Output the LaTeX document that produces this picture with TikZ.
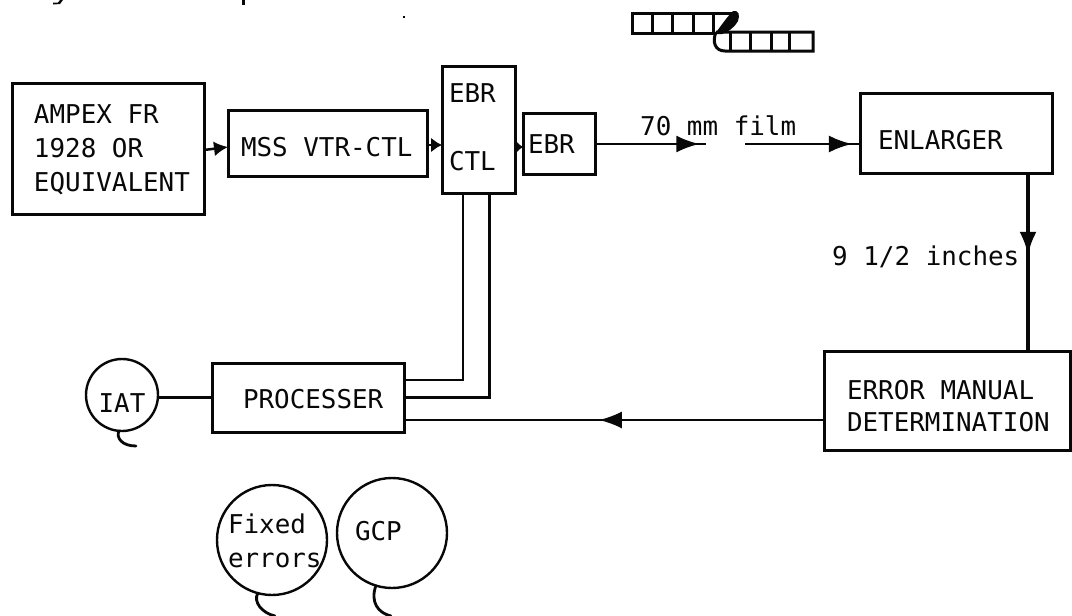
\documentclass[tikz,border=0pt]{standalone}
\usepackage{fontspec}
\usetikzlibrary{arrows.meta,decorations.markings}
\newfontfamily\monof{DejaVu Sans Mono}
\newcommand{\tf}[1]{\monof\fontsize{25.9}{#1}\selectfont}
\definecolor{ink}{gray}{0.03}
\tikzset{
  box/.style={draw=ink,text=ink,rectangle,line width=3pt,outer sep=0pt,inner ysep=0pt,align=flush left,font=\tf{34}},
  balloon/.style={draw=ink,text=ink,circle,line width=2.4pt,outer sep=0pt,inner sep=0pt,align=flush left,font=\tf{34}},
  tailline/.style={draw=ink,line width=2.8pt,line cap=round},
  wire/.style={draw=ink,line width=2.5pt},
  heavy/.style={draw=ink,line width=3.6pt},
  small tip/.style={-{Latex[length=#1,width=15pt]}},
  mid head/.style={postaction={decorate},decoration={markings,mark=at position #1 with {\arrow{Latex[length=23pt,width=17pt]}}}},
  plain text/.style={text=ink,inner sep=0pt,anchor=base west,font=\tf{34}},
  tape/.style={draw=ink,line width=3pt},
}
\begin{document}
\begin{tikzpicture}[x=1pt,y=-1pt]
\useasboundingbox (0,0) rectangle (1072,616);
% boxes
\node[box,minimum width=192pt,minimum height=131pt,inner xsep=22pt,text width=148pt,text height=0pt,text depth=51pt] (ampex) at (108,148.5) {\mbox{AMPEX FR}\\\mbox{1928 OR}\\\mbox{EQUIVALENT}};
\node[box,minimum width=199pt,minimum height=66pt,inner xsep=13pt,text width=173pt,text height=26pt,text depth=0pt] (mss) at (327.5,143) {\mbox{MSS VTR-CTL}};
\node[box,minimum width=73pt,minimum height=127pt,inner xsep=7pt,text width=59pt,text height=0pt,text depth=55pt,font=\tf{68}] (ebrctl) at (478.5,129.5) {EBR\\CTL};
\node[box,minimum width=72pt,minimum height=61pt,inner xsep=5pt,text width=62pt,text height=19pt,text depth=0pt] (ebr) at (559,143.5) {EBR};
\node[box,minimum width=192pt,minimum height=80pt,inner xsep=18pt,text width=156pt,text height=32pt,text depth=0pt] (enlarger) at (956,133) {\mbox{ENLARGER}};
\node[box,minimum width=246pt,minimum height=99pt,inner xsep=23pt,text width=200pt,text height=0pt,text depth=3pt,font=\tf{32}] (errbox) at (947,400.5) {\mbox{ERROR MANUAL}\\\mbox{DETERMINATION}};
\node[box,minimum width=192pt,minimum height=69pt,inner xsep=31pt,text width=130pt,text height=21pt,text depth=0pt] (proc) at (308,397.5) {\mbox{PROCESSER}};
% balloons
\node[balloon,minimum size=72pt,text height=34pt,text depth=0pt] (iat) at (122,395) {IAT};
\node[balloon,minimum size=110pt,text width=100pt,text height=0pt,text depth=14pt] (fixed) at (272,540) {\hspace*{6pt}Fixed\\\hspace*{6pt}errors};
\node[balloon,minimum size=110pt,text width=74pt,text height=14pt,text depth=0pt] (gcp) at (392,533) {GCP};
% balloon tails
\coordinate (iattail) at (136,446);
\coordinate (fixedtail) at (275,616);
\coordinate (gcptail) at (391,616);
\draw[tailline] (iat.-95) .. controls (116,438) and (122,446) .. (iattail);
\draw[tailline] (fixed.-105) .. controls (253,602) and (262,613) .. (fixedtail);
\draw[tailline] (gcp.-107) .. controls (370,602) and (378,613) .. (gcptail);
% top row connectors
\draw[wire,small tip=14pt] ([yshift=-1.5pt]ampex.east) -- ([yshift=-4pt]mss.west);
\draw[wire,small tip=11pt] ([yshift=-2pt]mss.east) -- ([yshift=-15.5pt]ebrctl.west);
\draw[wire,small tip=8pt] ([yshift=-17.5pt]ebrctl.east) -- ([yshift=-3.5pt]ebr.west);
\coordinate (gapa) at (706,144);
\coordinate (gapb) at (745,144);
\draw[wire,mid head=0.94] (ebr.east |- gapa) -- (gapa);
\draw[wire,mid head=0.93] (gapb) -- (enlarger.west |- gapb);
\node[plain text] (film) at (640,135) {70 mm film};
% right side
\draw[heavy,mid head=0.46] ([xshift=72pt]enlarger.south) -- ([xshift=81pt]errbox.north);
\node[plain text] (inches) at (832,265) {9 1/2 inches};
% return connectors
\draw[wire,mid head=0.536] ([yshift=-19.5pt]errbox.west) -- ([yshift=-22.5pt]proc.east);
\draw[wire] ([xshift=-15.5pt]ebrctl.south) |- ([yshift=17.5pt]proc.east);
\draw[wire] ([xshift=11pt]ebrctl.south) |- (proc.east);
\draw[wire] (iat.east |- proc.west) -- (proc.west);
% tape strip icon
\draw[tape] (733,13) -- (632,13) -- (632,33) -- (716,33);
\foreach \x in {652,672,693,713} \draw[tape] (\x,13) -- (\x,33);
\fill[ink] (715,34) .. controls (722,24) and (728,16) .. (733,11) .. controls (739,10) and (740,15) .. (738,21) .. controls (734,28) and (728,32) .. (722,34) -- cycle;
\draw[tape] (716,32) -- (813,32) -- (813,51) -- (725,51) .. controls (715,51) and (712,42) .. (716,32);
\foreach \x in {730,750,771,789} \draw[tape] (\x,32) -- (\x,51);
% scan residue
\fill[ink] (53,2.5) -- (58,2.5) -- (60,0) -- (63,0) -- (60,4) -- (53,4.5) -- cycle;
\fill[ink] (242,0) rectangle (244.5,4.5);
\fill[ink] (402.5,15.5) rectangle (404.5,18);
\end{tikzpicture}
\end{document}
